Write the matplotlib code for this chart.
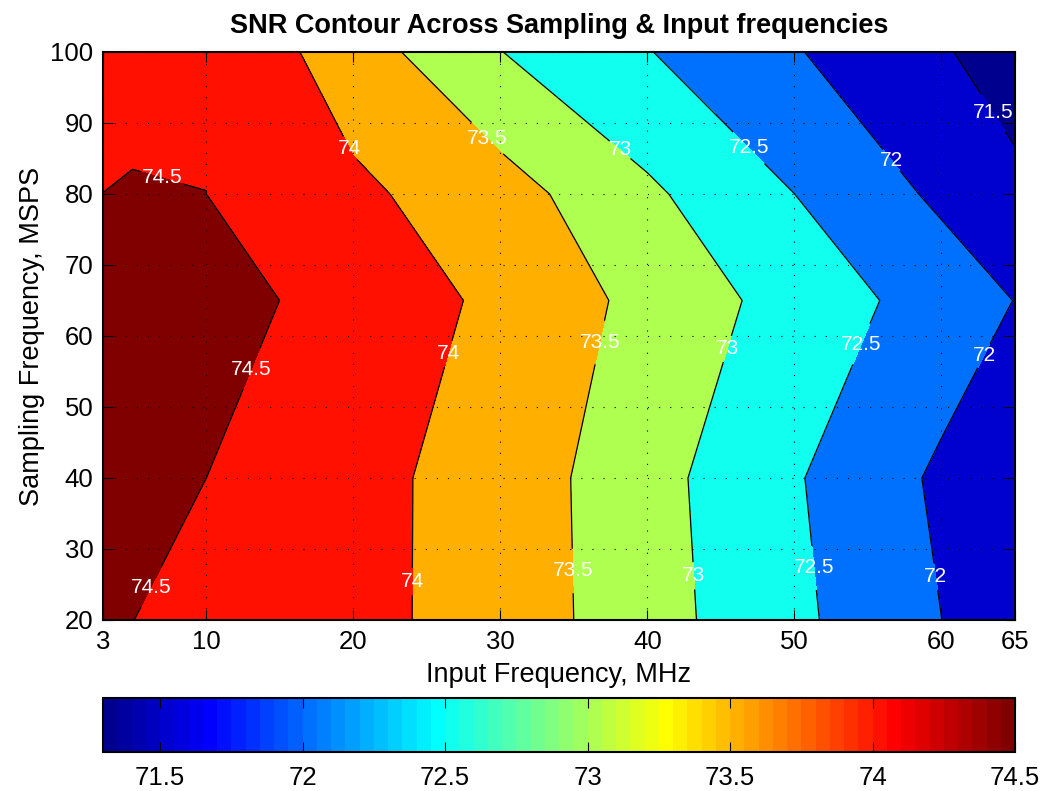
import numpy as np
import matplotlib.pyplot as plt
from matplotlib.colors import ListedColormap, Normalize
from matplotlib.cm import ScalarMappable

plt.rcParams['font.family'] = ['Liberation Sans', 'DejaVu Sans']

# Input frequency grid (MHz) and sampling frequency grid (MSPS)
f_in = np.array([3, 5, 10, 20, 30, 40, 50, 60, 65])
f_s = np.array([20, 40, 65, 80, 100])

# Measured SNR (dB) -- one row per sampling frequency
snr_fs20 = [74.52, 74.505, 74.30, 74.134, 73.80, 73.20, 72.602, 72.002, 71.70]
snr_fs40 = [74.53, 74.52, 74.501, 74.137, 73.80, 73.174, 72.545, 71.916, 71.62]
snr_fs65 = [74.56, 74.56, 74.55, 74.45, 73.85, 73.376, 72.793, 72.288, 71.99]
snr_fs80 = [74.5015, 74.521, 74.501, 74.097, 73.71, 73.085, 72.501, 71.908, 71.60]
snr_fs100 = [74.35, 74.40, 74.46, 73.74, 73.01, 72.52, 72.034, 71.54, 71.30]

snr = np.array([snr_fs20, snr_fs40, snr_fs65, snr_fs80, snr_fs100])

levels = [71.5, 72, 72.5, 73, 73.5, 74, 74.5]
x_ticks = [3, 10, 20, 30, 40, 50, 60, 65]
y_ticks = [20, 30, 40, 50, 60, 70, 80, 90, 100]
cbar_ticks = [71.5, 72, 72.5, 73, 73.5, 74, 74.5]


def matlab_jet(n=64):
    # same construction as MATLAB's jet(n)
    m = int(np.ceil(n / 4))
    u = np.concatenate([np.arange(1, m + 1) / m, np.ones(m - 1), np.arange(m, 0, -1) / m])
    g = int(np.ceil(m / 2)) - int(n % 4 == 1) + np.arange(1, len(u) + 1)
    r = g + m
    b = g - m
    J = np.zeros((n, 3))
    J[r[r <= n] - 1, 0] = u[r <= n]
    J[g[g <= n] - 1, 1] = u[g <= n]
    J[b[b >= 1] - 1, 2] = u[b >= 1]
    return ListedColormap(J)


jet = matlab_jet(64)
cmin, cmax = snr.min(), levels[-1]

# contourf regions take the colour of their lower level (MATLAB style)
bounds = [snr.min()] + levels + [snr.max()]
lower = np.array(bounds[:-1])
idx = np.clip(np.floor((lower - cmin) / (cmax - cmin) * 64 + 1e-9).astype(int), 0, 63)
fill_colors = [jet.colors[i] for i in idx]

fig = plt.figure(figsize=(10.46, 7.91), dpi=100)
ax = fig.add_axes([0.0985, 0.2162, 0.8719, 0.7181])

ax.contourf(f_in, f_s, snr, levels=bounds, colors=fill_colors)
cs = ax.contour(f_in, f_s, snr, levels=levels, colors='k', linewidths=0.9)

# label positions (data coords), approximately where MATLAB put them
label_pos = [(7.0, 82.0), (13.0, 55.4), (6.1, 24.8),
             (20.3, 87.0), (26.3, 57.6), (23.9, 25.4),
             (29.0, 87.6), (36.7, 59.1), (34.9, 26.9),
             (38.1, 86.1), (45.4, 58.2), (43.0, 26.2),
             (46.8, 86.3), (54.5, 58.9), (51.2, 27.3),
             (56.5, 84.6), (62.9, 57.2), (59.6, 26.1),
             (63.5, 91.4)]
labels = ax.clabel(cs, manual=label_pos, inline=True, inline_spacing=2,
                   fmt='%g', colors='w', fontsize=15)
for t in labels:
    t.set_rotation(0)

ax.set_xlim(3, 65)
ax.set_ylim(20, 100)
ax.set_xticks(x_ticks)
ax.set_yticks(y_ticks)
ax.set_axisbelow(False)
ax.grid(True, color='k', linestyle=(0, (1, 9)), linewidth=0.8)
ax.tick_params(direction='in', top=True, right=True, length=7, width=0.8,
               labelsize=18.5, pad=7)
for s in ax.spines.values():
    s.set_linewidth(1.5)

ax.set_title("SNR Contour Across Sampling & Input frequencies",
             fontsize=19.5, fontweight='bold', pad=14)
ax.set_xlabel("Input Frequency, MHz", fontsize=19.5, labelpad=6)
ax.set_ylabel("Sampling Frequency, MSPS", fontsize=19.5, labelpad=4)

# horizontal colorbar underneath
cax = fig.add_axes([0.0985, 0.0493, 0.8719, 0.0683])
sm = ScalarMappable(norm=Normalize(cmin, cmax), cmap=jet)
cbar = fig.colorbar(sm, cax=cax, orientation='horizontal', ticks=cbar_ticks, format='%g')
cbar.ax.minorticks_off()
cbar.ax.tick_params(direction='in', top=True, bottom=True, length=7, width=0.8,
                    labelsize=18.5, pad=10)
cbar.outline.set_linewidth(1.5)

fig.savefig("out.png", dpi=100)
